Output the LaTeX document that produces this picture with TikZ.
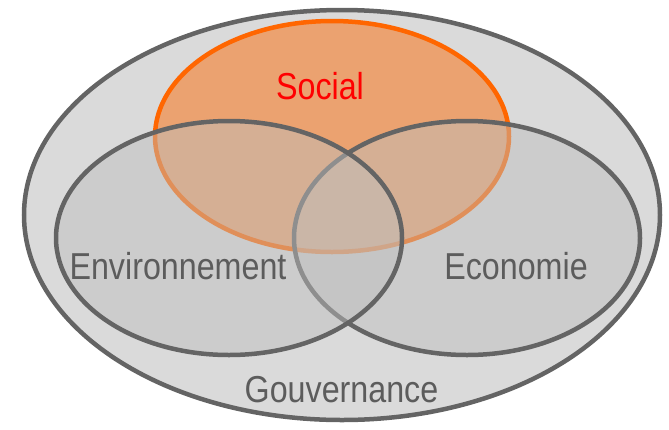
\documentclass[tikz,border=0pt]{standalone}
\usepackage{fontspec}
\setmainfont{Liberation Sans}
\newfontfamily\narrowsans[FakeStretch=0.86]{Liberation Sans}
\usepackage{xcolor}
\usetikzlibrary{shapes.geometric}
\definecolor{rimgray}{RGB}{100,100,100}
\definecolor{outerfill}{RGB}{218,218,218}
\definecolor{pillarfill}{RGB}{190,190,190}
\definecolor{socialfill}{RGB}{235,162,112}
\definecolor{socialrim}{RGB}{255,102,0}
\definecolor{tagtext}{RGB}{92,92,92}
\tikzset{
  sphere/.style={ellipse, draw=rimgray, line width=4.5pt, inner sep=0pt},
  pillar/.style={sphere, fill=pillarfill, fill opacity=0.47, minimum width=346pt, minimum height=234pt},
  tag/.style={anchor=base, inner sep=0pt, text=tagtext, font=\narrowsans\fontsize{37.5}{40}\selectfont},
}

\begin{document}
\begin{tikzpicture}[x=1pt, y=-1pt]
        \useasboundingbox (0,0) rectangle (669,429); %
        \node[sphere, fill=outerfill, minimum width=636pt, minimum height=410pt] (gouv) at (342,215) {} ; %
        \node[sphere, draw=socialrim, fill=socialfill, minimum width=354pt, minimum height=231pt] (social) at (332,136.5) {} ; %
        \node[pillar] (eco) at (467,238) {} ; %
        \node[pillar] (env) at (229,238) {} ; %
        \node[tag, text=red] (socialtag) at (320,99) {Social} ; %
        \node[tag] (envtag) at (178,279) {Environnement} ; %
        \node[tag] (ecotag) at (516,279) {Economie} ; %
        \node[tag] (gouvtag) at (341.5,402) {Gouvernance} ; %
      \end{tikzpicture}
\end{document}
